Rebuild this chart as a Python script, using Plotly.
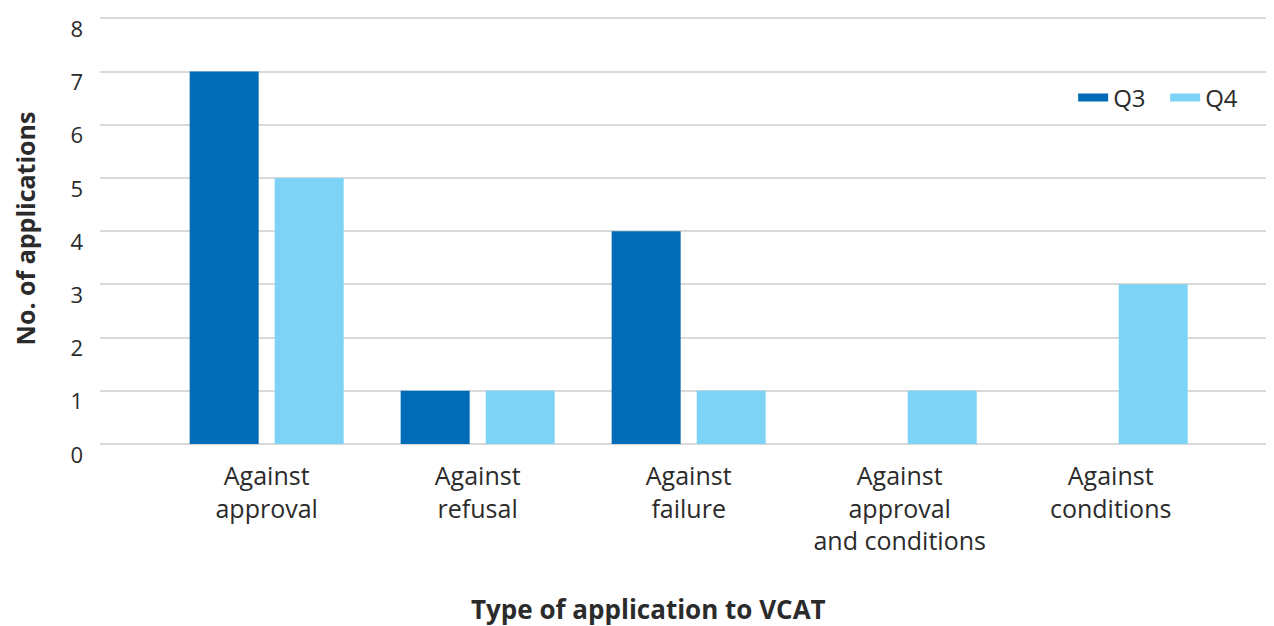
import plotly.graph_objects as go

categories = ["Against<br>approval", "Against<br>refusal", "Against<br>failure",
              "Against<br>approval<br>and conditions", "Against<br>conditions"]
q3_values = [7, 1, 4, 0, 0]
q4_values = [5, 1, 1, 1, 3]
y_ticks = [0, 1, 2, 3, 4, 5, 6, 7, 8]

text_color = "#2b2b2b"
font_family = "Open Sans, sans-serif"
q3_color = "#006bb6"
q4_color = "#7dd3f5"

fig = go.Figure()
fig.add_trace(go.Bar(name="Q3", x=categories, y=q3_values, showlegend=False,
                     marker=dict(color=q3_color, line=dict(width=0)),
                     offset=-0.365, width=0.327))
fig.add_trace(go.Bar(name="Q4", x=categories, y=q4_values, showlegend=False,
                     marker=dict(color=q4_color, line=dict(width=0)),
                     offset=0.038, width=0.327))
# legend-only entries drawn as short thick bars, like the original key
for name, col in [("Q3", q3_color), ("Q4", q4_color)]:
    fig.add_trace(go.Scatter(name=name, x=[None], y=[None], mode="lines",
                             line=dict(color=col, width=8)))

# page body adds an 8px offset, so shift everything up/left by 8px
fig.update_layout(
    width=1274, height=618,
    margin=dict(l=92, r=0, t=5, b=182, autoexpand=False),
    plot_bgcolor="white", paper_bgcolor="white",
    font=dict(family=font_family, size=22, color=text_color),
    legend=dict(orientation="h", x=0.8233, y=0.803, xanchor="left", yanchor="middle",
                font=dict(size=24), bgcolor="rgba(0,0,0,0)", itemwidth=30,
                entrywidth=47),
    annotations=[dict(text="<b>Type of application to VCAT</b>", xref="paper", yref="paper",
                      x=0.464, y=-0.382, xanchor="center", yanchor="middle",
                      showarrow=False, font=dict(size=26, color=text_color))],
)

fig.update_xaxes(
    range=[-0.79, 4.812], automargin=False,
    showgrid=False, showline=False, ticks="",
    tickfont=dict(size=25), ticklabelstandoff=15,
)
fig.update_yaxes(
    range=[0, 8.1], tickvals=y_ticks, automargin=False,
    showgrid=True, gridcolor="#d9d9d9", gridwidth=1.5,
    zeroline=True, zerolinecolor="#d9d9d9", zerolinewidth=1.5,
    showline=False, ticks="", tickfont=dict(size=22),
    ticklabelstandoff=16, ticklabelshift=11, ticklabeloverflow="allow",
    title=dict(text="<b>No. of applications</b>", font=dict(size=25), standoff=34),
)

fig.write_html("out.html")
